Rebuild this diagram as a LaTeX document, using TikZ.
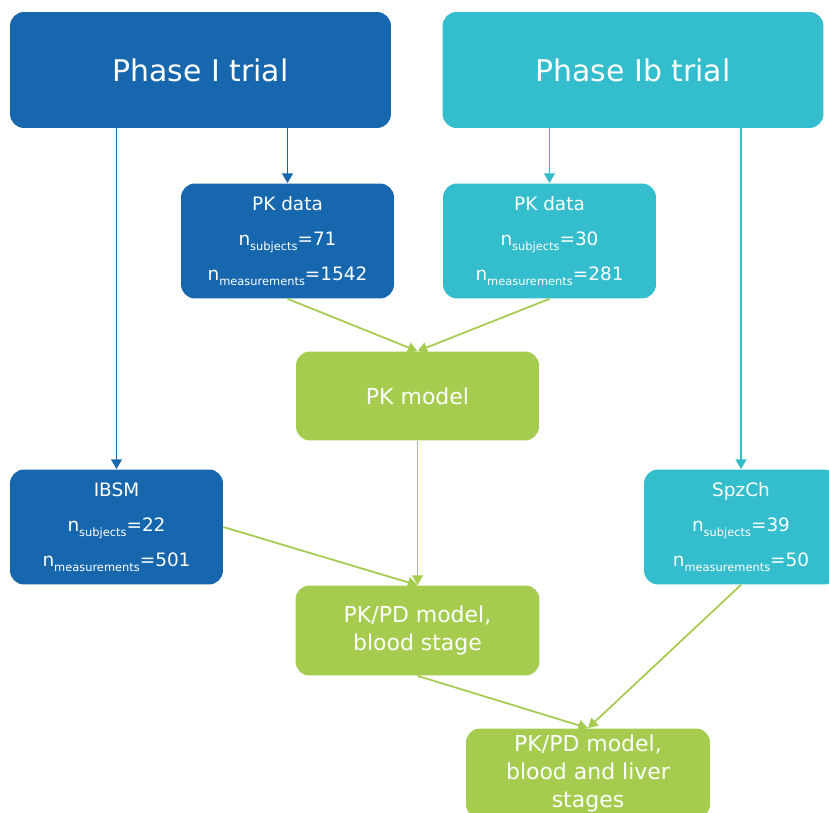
\documentclass[tikz,border=0pt]{standalone}
\usepackage{fontspec}
\setmainfont{DejaVu Sans}
\usetikzlibrary{arrows.meta}
\definecolor{trialblue}{HTML}{1767AE}
\definecolor{trialcyan}{HTML}{33BDCD}
\definecolor{modelgreen}{HTML}{A5CB4F}
\newcommand{\nsub}[2]{n\raisebox{-0.45ex}{\fontsize{6.5}{7}\selectfont #1}=#2}
\tikzset{
  box/.style={rounded corners=0.28cm, text=white, align=center, inner sep=0pt},
  trial/.style={box, minimum width=7.62cm, minimum height=2.32cm, font=\fontsize{17}{20}\selectfont},
  data/.style={box, minimum width=4.26cm, minimum height=2.30cm, font=\fontsize{10.5}{20}\selectfont},
  model/.style={box, fill=modelgreen, minimum width=4.88cm, minimum height=1.80cm, font=\fontsize{12.5}{16}\selectfont},
  arr/.style={-{Triangle[length=5.5pt,width=6pt]}, line width=1pt},
}

\begin{document}
\begin{tikzpicture}[x=0.02cm, y=0.02cm]
  \useasboundingbox (0,0) rectangle (829,-813);
  \clip (0,0) rectangle (829,-813);
  \node[trial, fill=trialblue] (phasei) at (200.5,-70) {Phase I trial};
  \node[trial, fill=trialcyan] (phaseib) at (633,-70) {Phase Ib trial};
  \node[data, fill=trialblue] (pkdatai) at (287.5,-241) {PK data\\ \nsub{subjects}{71}\\ \nsub{measurements}{1542}};
  \node[data, fill=trialcyan] (pkdataib) at (549.5,-241) {PK data\\ \nsub{subjects}{30}\\ \nsub{measurements}{281}};
  \node[model, minimum width=4.86cm, minimum height=1.78cm] (pkmodel) at (417.5,-396) {PK model};
  \node[data, fill=trialblue] (ibsm) at (116.5,-527) {IBSM\\ \nsub{subjects}{22}\\ \nsub{measurements}{501}};
  \node[data, fill=trialcyan, minimum width=3.88cm] (spzch) at (741,-527) {SpzCh\\ \nsub{subjects}{39}\\ \nsub{measurements}{50}};
  \node[model] (blood) at (417.5,-630.5) {PK/PD model,\\ blood stage};
  \node[model] (liver) at (588,-773.5) {PK/PD model,\\ blood and liver\\ stages};

  \draw[arr, trialblue] (phasei.south -| ibsm.north) -- (ibsm.north);
  \draw[arr, trialblue] (phasei.south -| pkdatai.north) -- (pkdatai.north);
  \draw[arr, trialcyan] (phaseib.south -| pkdataib.north) -- (pkdataib.north);
  \draw[arr, trialcyan] (phaseib.south -| spzch.north) -- (spzch.north);
  \draw[arr, modelgreen] (pkdatai.south) -- (pkmodel.north);
  \draw[arr, modelgreen] (pkdataib.south) -- (pkmodel.north);
  \draw[arr, modelgreen] (pkmodel.south) -- (blood.north);
  \draw[arr, modelgreen] (ibsm.east) -- (blood.north);
  \draw[arr, modelgreen] (blood.south) -- (liver.north);
  \draw[arr, modelgreen] (spzch.south) -- (liver.north);
\end{tikzpicture}
\end{document}
